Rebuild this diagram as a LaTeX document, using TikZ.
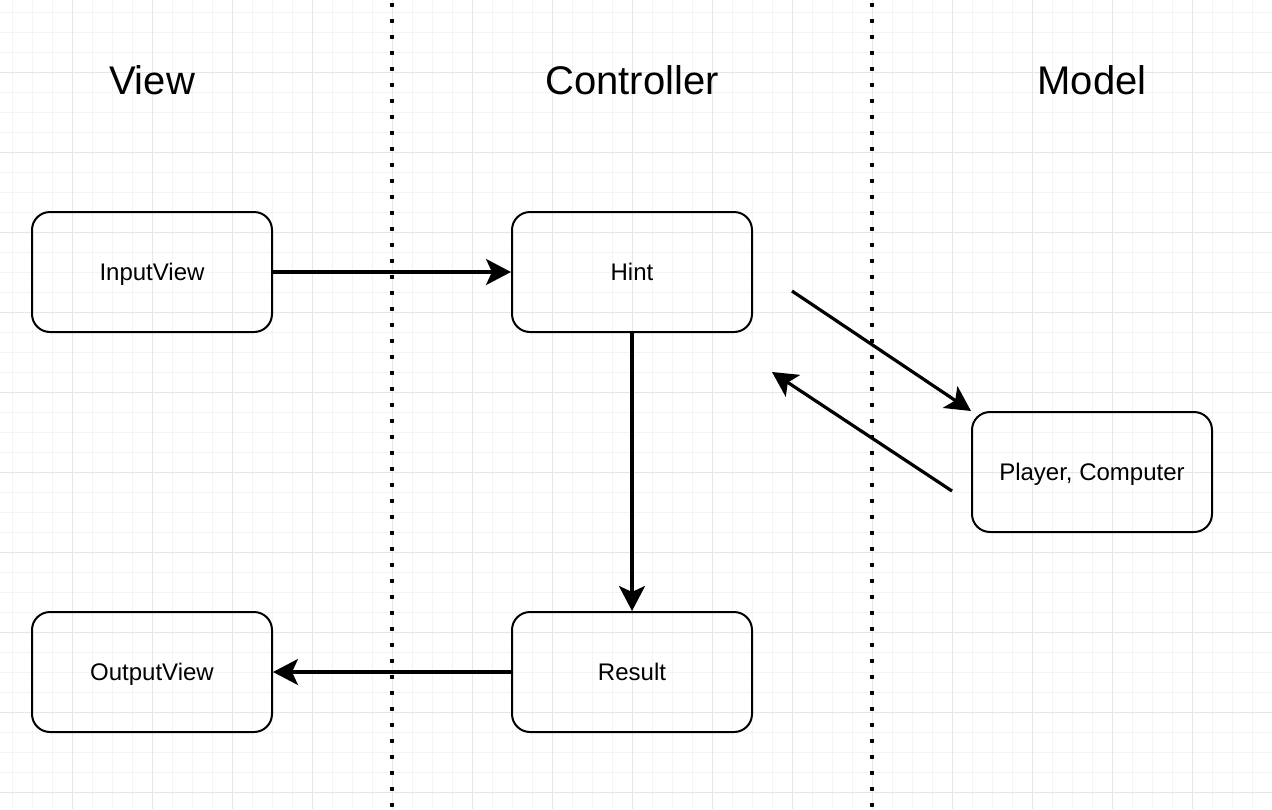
\documentclass[tikz,border=0pt]{standalone}
\usepackage{fontspec}
\setmainfont{Liberation Sans}
\usetikzlibrary{arrows.meta}
\definecolor{gridMinor}{HTML}{F4F4F4}
\definecolor{gridMajor}{HTML}{E6E6E6}
\newcommand{\mvcTitle}{\fontsize{40}{48}\selectfont}
\newcommand{\mvcLabel}{\fontsize{24}{29}\selectfont}

\begin{document}
\begin{tikzpicture}[x=1pt,y=-1pt,
  mvcbox/.style={draw, line width=2pt, rounded corners=18pt, minimum width=240pt,
    minimum height=120pt, inner sep=0pt, text height=17.2pt, text depth=0pt, font=\mvcLabel},
  flow/.style={line width=3.2pt, -{Stealth[length=25pt,width=26pt,inset=6pt]}},
  lane/.style={line width=4pt, dash pattern=on 4pt off 12pt, dash phase=13pt}]
\useasboundingbox (0,0) rectangle (1272,809);
% background grid
\foreach \gx in {12,32,...,1272} \draw[gridMinor, line width=1pt] (\gx,0) -- (\gx,809);
\foreach \gy in {12,32,...,809} \draw[gridMinor, line width=1pt] (0,\gy) -- (1272,\gy);
\foreach \gx in {72,152,...,1272} \draw[gridMajor, line width=1pt] (\gx,0) -- (\gx,809);
\foreach \gy in {72,152,...,809} \draw[gridMajor, line width=1pt] (0,\gy) -- (1272,\gy);
% lanes
\draw[lane] (392,0) -- (392,809);
\draw[lane] (872,0) -- (872,809);
\node[anchor=base, inner sep=0pt, font=\mvcTitle] (viewTitle) at (152,94) {View};
\node[anchor=base, inner sep=0pt, font=\mvcTitle] (ctrlTitle) at (632,94) {Controller};
\node[anchor=base, inner sep=0pt, font=\mvcTitle] (modelTitle) at (1092,94) {Model};
% boxes
\node[mvcbox] (inputView) at (152,272) {InputView};
\node[mvcbox] (hint) at (632,272) {Hint};
\node[mvcbox] (players) at (1092,472) {Player, Computer};
\node[mvcbox] (outputView) at (152,672) {OutputView};
\node[mvcbox] (result) at (632,672) {Result};
% arrows
\coordinate (askStart) at (792,291);
\coordinate (replyStart) at (952,491);
\coordinate (replyEnd) at (772,372);
\draw[flow] (inputView) -- (hint);
\draw[flow] (hint) -- (result);
\draw[flow] (result) -- (outputView);
\draw[flow] (askStart) -- (players.north west);
\draw[flow] (replyStart) -- (replyEnd);
\end{tikzpicture}
\end{document}
